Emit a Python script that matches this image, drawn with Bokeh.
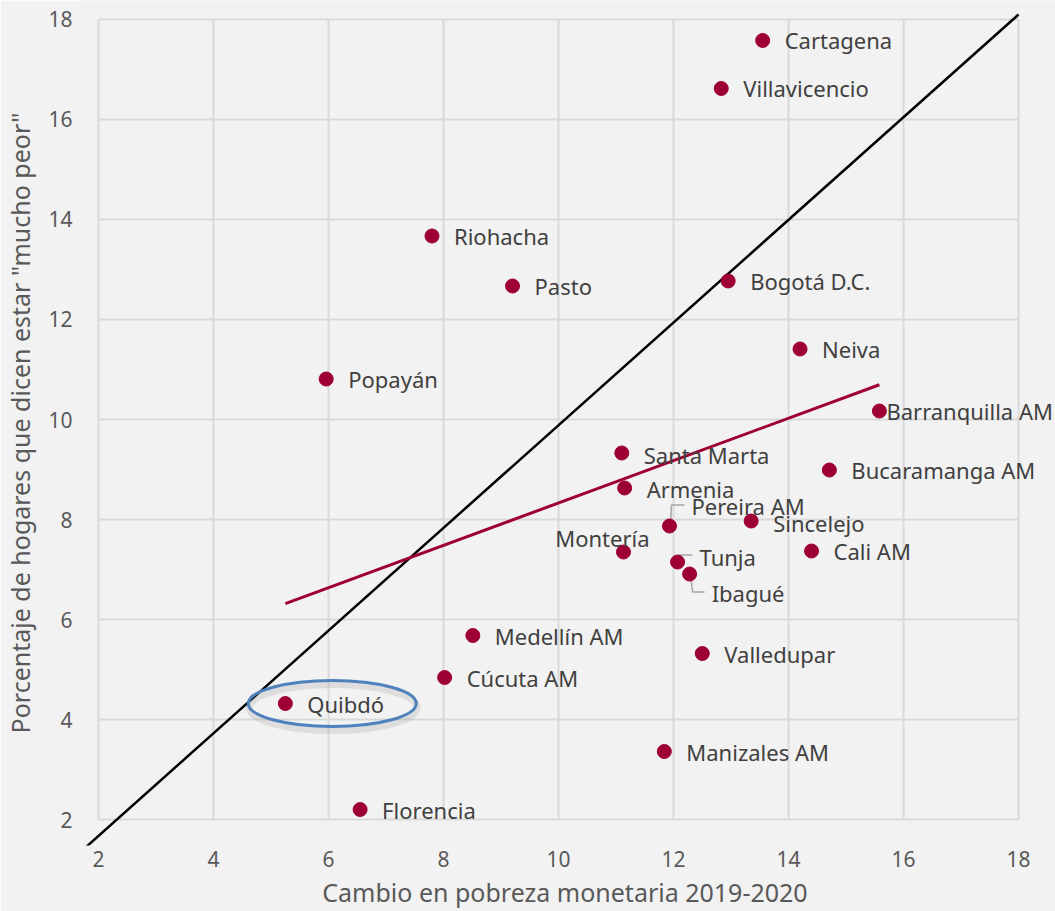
import numpy as np
from bokeh.plotting import figure
from bokeh.models import ColumnDataSource, LabelSet, FixedTicker, Range1d
from bokeh.core.properties import value
from bokeh.embed import file_html
from bokeh.resources import INLINE

# ---- data ----
cities = ["Cartagena", "Villavicencio", "Riohacha", "Pasto", "Bogotá D.C.", "Neiva",
          "Popayán", "Barranquilla AM", "Santa Marta", "Bucaramanga AM", "Armenia",
          "Pereira AM", "Sincelejo", "Montería", "Tunja", "Cali AM", "Ibagué",
          "Medellín AM", "Valledupar", "Cúcuta AM", "Quibdó", "Manizales AM", "Florencia"]
poverty_change = [13.55, 12.83, 7.80, 9.20, 12.95, 14.20,
                  5.96, 15.58, 11.10, 14.71, 11.15,
                  11.93, 13.35, 11.13, 12.07, 14.40, 12.28,
                  8.51, 12.50, 8.02, 5.25, 11.84, 6.55]
much_worse = [17.58, 16.62, 13.67, 12.67, 12.77, 11.41,
              10.81, 10.17, 9.33, 8.99, 8.63,
              7.87, 7.97, 7.35, 7.15, 7.37, 6.91,
              5.68, 5.32, 4.84, 4.32, 3.36, 2.20]
x_ticks = [2, 4, 6, 8, 10, 12, 14, 16, 18]
y_ticks = [2, 4, 6, 8, 10, 12, 14, 16, 18]
diag_x = [1.58, 18.0]
diag_y = [1.24, 18.1]

# ---- label placement (screen px, right / down) ----
label_dx = {"Montería": 26, "Barranquilla AM": 7}
label_dy = {"Pereira AM": -20, "Montería": -14, "Tunja": -5, "Ibagué": 19,
            "Sincelejo": 2, "Santa Marta": 2, "Armenia": 1}
label_align = {"Montería": "right"}

DOT = "#9E0034"
TXT = "#404040"
AXT = "#595959"
GRID = "#D9D9D9"
FONT = "Noto Sans"

# ---- layout (page px; page has no margin) ----
W, H = 1055, 911
FL, FR, FT, FB = 72, 1055, 0, 846          # frame box
GX0, GX1, GY0, GY1 = 96, 1018, 820, 19     # pixel positions of the 2..18 grid box
px_x = (GX1 - GX0) / (x_ticks[-1] - x_ticks[0])
px_y = (GY0 - GY1) / (y_ticks[-1] - y_ticks[0])
xr = Range1d(x_ticks[0] - (GX0 - FL) / px_x, x_ticks[-1] + (FR - GX1) / px_x)
yr = Range1d(y_ticks[0] - (FB - GY0) / px_y, y_ticks[-1] + (GY1 - FT) / px_y)

p = figure(width=W, height=H, output_backend="svg", toolbar_location=None,
           x_range=xr, y_range=yr,
           min_border_left=FL, min_border_right=W - FR, min_border_top=FT, min_border_bottom=H - FB,
           background_fill_color="#F2F2F2", border_fill_color="#F2F2F2",
           outline_line_color=None)
p.grid.visible = False

for ax in (p.xaxis[0], p.yaxis[0]):
    ax.major_tick_line_color = None
    ax.minor_tick_line_color = None
    ax.major_tick_out = 0
    ax.major_tick_in = 0
    ax.minor_tick_out = 0
    ax.minor_tick_in = 0
    ax.axis_line_color = None
    ax.major_label_text_font = FONT
    ax.major_label_text_font_size = "21px"
    ax.major_label_text_color = AXT
    ax.axis_label_text_font = FONT
    ax.axis_label_text_font_size = "25px"
    ax.axis_label_text_color = AXT
    ax.axis_label_text_font_style = "normal"

p.xaxis.ticker = FixedTicker(ticks=x_ticks)
p.yaxis.ticker = FixedTicker(ticks=y_ticks)
p.xaxis.axis_label = "Cambio en pobreza monetaria 2019-2020"
p.yaxis.axis_label = 'Porcentaje de hogares que dicen estar "mucho peor"'
p.xaxis.major_label_standoff = 5
p.yaxis.major_label_standoff = 2
p.xaxis.axis_label_standoff = 5
p.yaxis.axis_label_standoff = 8

# grid lines (bounded to the 2..18 box)
p.segment(x0=x_ticks, x1=x_ticks, y0=[y_ticks[0]] * len(x_ticks), y1=[y_ticks[-1]] * len(x_ticks),
          line_color=GRID, line_width=2)
p.segment(x0=[x_ticks[0]] * len(y_ticks), x1=[x_ticks[-1]] * len(y_ticks), y0=y_ticks, y1=y_ticks,
          line_color=GRID, line_width=2)

# 45-degree reference line
p.line(diag_x, diag_y, line_color="black", line_width=2.5)

# OLS trend line over the data range
xs = np.array(poverty_change)
ys = np.array(much_worse)
slope, intercept = np.polyfit(xs, ys, 1)
tx = np.array([xs.min(), xs.max()])
p.line(tx, slope * tx + intercept, line_color=DOT, line_width=3)

# leader lines (defined in screen px relative to the point)
leaders = {"Pereira AM": [(1, -3), (2, -21), (15, -21)],
           "Tunja": [(1, -2), (2, -7), (15, -7)],
           "Ibagué": [(1, 1), (3, 18), (15, 18)]}
for name, pts in leaders.items():
    i = cities.index(name)
    lx = [poverty_change[i] + dx / px_x for dx, dy in pts]
    ly = [much_worse[i] - dy / px_y for dx, dy in pts]
    p.line(lx, ly, line_color="#A6A6A6", line_width=1.5)

# Quibdó highlight ellipse (with soft shadow)
qi = cities.index("Quibdó")
p.ellipse(x=[poverty_change[qi] + 48 / px_x], y=[much_worse[qi] - 4 / px_y],
          width=[168], height=[46], width_units="screen", height_units="screen",
          fill_color=None, line_color="#7F7F7F", line_alpha=0.18, line_width=7)
p.ellipse(x=[poverty_change[qi] + 47 / px_x], y=[much_worse[qi]],
          width=[168], height=[46], width_units="screen", height_units="screen",
          fill_color=None, line_color="#4F81BD", line_width=3)

src = ColumnDataSource(dict(
    x=poverty_change, y=much_worse, name=cities,
    dx=[label_dx.get(c, 22) for c in cities],
    dy=[-label_dy.get(c, 0) for c in cities],
    align=[label_align.get(c, "left") for c in cities]))

p.scatter("x", "y", source=src, size=14, fill_color=DOT, line_color=DOT)

labels = LabelSet(x="x", y="y", text="name", source=src, x_offset="dx", y_offset="dy",
                  text_align="align", text_baseline="middle", text_font=value(FONT),
                  text_font_size="22px", text_color=TXT)
p.add_layout(labels)

open("out.html", "w").write(file_html(p, INLINE))
